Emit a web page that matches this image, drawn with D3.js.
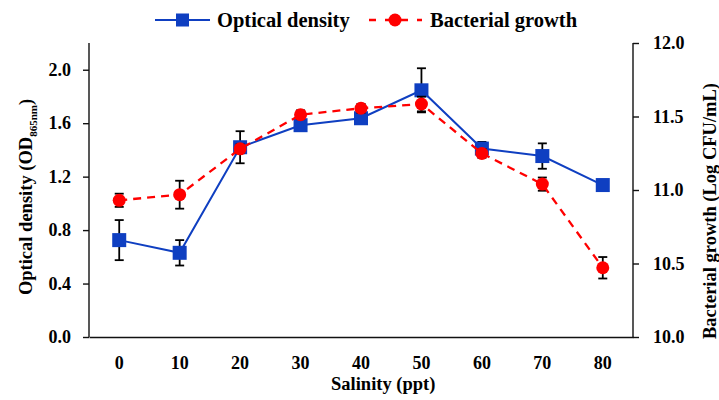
<!DOCTYPE html>
<html>
<head>
<meta charset="utf-8">
<script src="https://cdn.jsdelivr.net/npm/d3@7"></script>
<style>
    body { margin: 0; background: #fff; }
    text { font-family: "Liberation Serif", "Times New Roman", serif; font-weight: bold; fill: #000; }
</style>
</head>
<body>
<div id="chart"></div>
<script>
// data
const salinity = ["0", "10", "20", "30", "40", "50", "60", "70", "80"];
const odValues = [0.725, 0.630, 1.420, 1.585, 1.637, 1.846, 1.410, 1.354, 1.137];
const odErrors = [0.150, 0.095, 0.120, 0.030, 0.030, 0.165, 0.050, 0.095, 0.015];
const growthValues = [10.930, 10.968, 11.280, 11.512, 11.556, 11.585, 11.249, 11.040, 10.471];
const growthErrors = [0.045, 0.095, 0.030, 0.030, 0.030, 0.050, 0.030, 0.045, 0.073];
const odTicks = [0.0, 0.4, 0.8, 1.2, 1.6, 2.0];
const growthTicks = [10.0, 10.5, 11.0, 11.5, 12.0];

const W = 719, H = 400;
const margin = {top: 43, right: 86, bottom: 63, left: 89};
const blue = "#0f3fc1", red = "#ff0000";

const svg = d3.select("#chart").append("svg")
    .attr("width", W)
    .attr("height", H);

const x = d3.scaleBand()
    .domain(salinity)
    .range([margin.left, W - margin.right]);

const yL = d3.scaleLinear()
    .domain([0, 2.2])
    .range([H - margin.bottom, margin.top]);

const yR = d3.scaleLinear()
    .domain([10, 12])
    .range([H - margin.bottom, margin.top]);

const cx = d => x(d) + x.bandwidth() / 2;

// axes
const axisL = svg.append("g")
    .attr("transform", `translate(${margin.left},0)`)
    .call(d3.axisLeft(yL).tickValues(odTicks).tickFormat(d3.format(".1f")).tickSize(6).tickPadding(12));

const axisR = svg.append("g")
    .attr("transform", `translate(${W - margin.right},0)`)
    .call(d3.axisRight(yR).tickValues(growthTicks).tickFormat(d3.format(".1f")).tickSize(6).tickPadding(14));

const axisB = svg.append("g")
    .attr("transform", `translate(0,${H - margin.bottom})`)
    .call(d3.axisBottom(x).tickSize(0).tickPadding(19));

[axisL, axisR, axisB].forEach(a => {
    a.select(".domain").attr("stroke", "#111").attr("stroke-width", 1.4);
    a.selectAll(".tick line").attr("stroke", "#111").attr("stroke-width", 1.4);
    a.selectAll("text").style("font-size", "18px").attr("fill", "#000");
});
axisL.select(".domain").attr("d", `M0,${margin.top}V${H - margin.bottom}`);
axisR.select(".domain").attr("d", `M0,${margin.top}V${H - margin.bottom}`);

// axis titles
svg.append("text")
    .attr("x", cx("40") + x.bandwidth() / 2 - 8)
    .attr("y", 390)
    .attr("text-anchor", "middle")
    .style("font-size", "18.5px")
    .text("Salinity (ppt)");

const tl = svg.append("text")
    .attr("transform", "translate(32,197) rotate(-90)")
    .attr("text-anchor", "middle")
    .style("font-size", "18.5px");
tl.append("tspan").text("Optical density (OD");
tl.append("tspan").attr("dy", 5).style("font-size", "11px").text("865nm");
tl.append("tspan").attr("dy", -5).text(")");

svg.append("text")
    .attr("transform", "translate(716,211) rotate(-90)")
    .attr("text-anchor", "middle")
    .style("font-size", "18.5px")
    .text("Bacterial growth (Log CFU/mL)");

// error bars
function errorBars(values, errors, y) {
    const g = svg.append("g");
    values.forEach((v, i) => {
        const px = cx(salinity[i]);
        const y1 = y(v + errors[i]), y2 = y(v - errors[i]);
        g.append("line").attr("x1", px).attr("x2", px).attr("y1", y1).attr("y2", y2);
        g.append("line").attr("x1", px - 4.5).attr("x2", px + 4.5).attr("y1", y1).attr("y2", y1);
        g.append("line").attr("x1", px - 4.5).attr("x2", px + 4.5).attr("y1", y2).attr("y2", y2);
    });
    g.selectAll("line").attr("stroke", "#000").attr("stroke-width", 1.8);
}

// optical density series
errorBars(odValues, odErrors, yL);

const lineL = d3.line()
    .x((d, i) => cx(salinity[i]))
    .y(d => yL(d));

svg.append("path")
    .attr("d", lineL(odValues))
    .attr("fill", "none")
    .attr("stroke", blue)
    .attr("stroke-width", 2);

svg.selectAll(".sq")
    .data(odValues)
    .enter()
    .append("rect")
    .attr("class", "sq")
    .attr("x", (d, i) => cx(salinity[i]) - 7)
    .attr("y", d => yL(d) - 7)
    .attr("width", 14)
    .attr("height", 14)
    .attr("fill", blue);

// bacterial growth series
errorBars(growthValues, growthErrors, yR);

const lineR = d3.line()
    .x((d, i) => cx(salinity[i]))
    .y(d => yR(d));

svg.append("path")
    .attr("d", lineR(growthValues))
    .attr("fill", "none")
    .attr("stroke", red)
    .attr("stroke-width", 2.3)
    .attr("stroke-dasharray", "8,6");

svg.selectAll(".dot")
    .data(growthValues)
    .enter()
    .append("circle")
    .attr("class", "dot")
    .attr("cx", (d, i) => cx(salinity[i]))
    .attr("cy", d => yR(d))
    .attr("r", 6.5)
    .attr("fill", red);

// legend
const leg = svg.append("g");
leg.append("line").attr("x1", 155).attr("x2", 210).attr("y1", 20).attr("y2", 20)
    .attr("stroke", blue).attr("stroke-width", 2);
leg.append("rect").attr("x", 176).attr("y", 13.5).attr("width", 13).attr("height", 13).attr("fill", blue);
leg.append("text").attr("x", 217).attr("y", 26.5).style("font-size", "20.5px").text("Optical density");

leg.append("line").attr("x1", 369).attr("x2", 422).attr("y1", 20).attr("y2", 20)
    .attr("stroke", red).attr("stroke-width", 2.3).attr("stroke-dasharray", "7,9");
leg.append("circle").attr("cx", 395).attr("cy", 20).attr("r", 6.5).attr("fill", red);
leg.append("text").attr("x", 430).attr("y", 26.5).style("font-size", "20.5px").text("Bacterial growth");
</script>
</body>
</html>
